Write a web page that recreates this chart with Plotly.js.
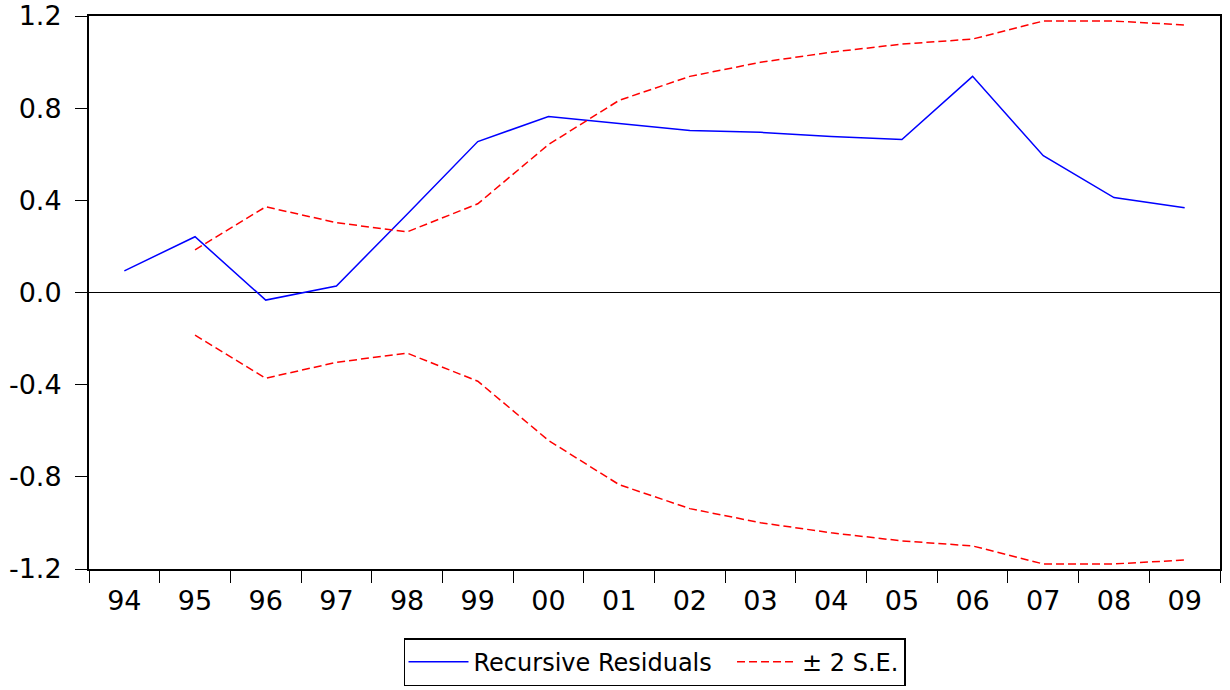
<!DOCTYPE html>
<html>
<head>
<meta charset="utf-8">
<script src="https://cdn.plot.ly/plotly-3.0.1.min.js"></script>
<style>html,body{margin:0;padding:0;background:#fff;}#chart{width:1230px;height:690px;}</style>
</head>
<body>
<div id="chart"></div>
<script>
var years = ["94","95","96","97","98","99","00","01","02","03","04","05","06","07","08","09"];
var residuals = [0.094, 0.242, -0.033, 0.028, 0.34, 0.655, 0.764, 0.734, 0.703, 0.695, 0.677, 0.664, 0.938, 0.594, 0.412, 0.368];
var upperSE = [null, 0.185, 0.372, 0.303, 0.263, 0.385, 0.642, 0.834, 0.938, 0.999, 1.043, 1.078, 1.100, 1.178, 1.178, 1.161];
var lowerSE = upperSE.map(function(v){ return v === null ? null : -v; });
var yTicks = [-1.2, -0.8, -0.4, 0.0, 0.4, 0.8, 1.2];
var yTickText = ["-1.2", "-0.8", "-0.4", "0.0", "0.4", "0.8", "1.2"];

var fontFam = "DejaVu Sans, Liberation Sans, Arial, sans-serif";
var traces = [
  {x: years, y: residuals, type: "scatter", mode: "lines", name: "Recursive Residuals\u00A0\u00A0",
   line: {color: "#0000ff", width: 1.5}},
  {x: years, y: upperSE, type: "scatter", mode: "lines", name: "\u00B1 2 S.E.", legendgroup: "se",
   line: {color: "#ff0000", width: 1.5, dash: "8px,4px"}},
  {x: years, y: lowerSE, type: "scatter", mode: "lines", name: "\u00B1 2 S.E.", legendgroup: "se",
   showlegend: false, line: {color: "#ff0000", width: 1.5, dash: "8px,4px"}}
];
var layout = {
  width: 1230, height: 690,
  margin: {l: 89, r: 10, t: 16, b: 121, autoexpand: false},
  paper_bgcolor: "#fff", plot_bgcolor: "#fff",
  font: {family: fontFam, size: 27, color: "#000"},
  showlegend: true,
  legend: {orientation: "h", x: 0.5, xanchor: "center", y: -0.125, yanchor: "top",
    bordercolor: "#000", borderwidth: 1.5, font: {family: fontFam, size: 24, color: "#000"},
    itemwidth: 60, tracegroupgap: 0},
  xaxis: {type: "category", tickson: "boundaries", ticks: "outside", ticklen: 12, tickwidth: 1,
    tickcolor: "#000", showline: true, linecolor: "#000", linewidth: 2, mirror: true,
    showgrid: false, zeroline: false, range: [-0.5, 15.5], ticklabelstandoff: 7, automargin: false,
    tickfont: {family: fontFam, size: 27, color: "#000"}},
  yaxis: {range: [-1.2, 1.2], tickvals: yTicks, ticktext: yTickText, ticks: "outside", ticklen: 12,
    tickwidth: 1, tickcolor: "#000", showline: true, linecolor: "#000", linewidth: 2, mirror: true,
    showgrid: false, zeroline: true, zerolinecolor: "#000", zerolinewidth: 1, ticklabelstandoff: 8,
    automargin: false, tickfont: {family: fontFam, size: 27, color: "#000"}}
};
Plotly.newPlot("chart", traces, layout, {displayModeBar: false, staticPlot: true});
</script>
</body>
</html>
